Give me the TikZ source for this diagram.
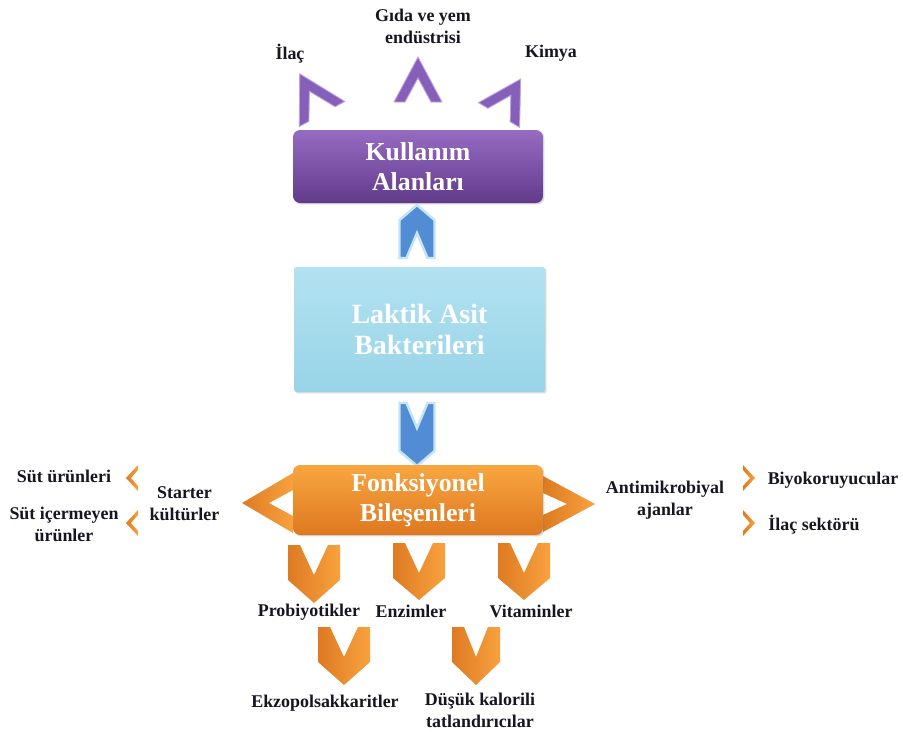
\documentclass[tikz,border=0pt]{standalone}
\usepackage{fontspec}
\setmainfont{Liberation Serif}
\usepackage{tikz}
\usetikzlibrary{shadows}
\definecolor{purple_top}{RGB}{150,108,195}
\definecolor{purple_bot}{RGB}{98,58,138}
\definecolor{purple_chev}{RGB}{134,96,184}
\definecolor{purple_edge}{RGB}{190,165,225}
\definecolor{blue_top}{RGB}{178,226,241}
\definecolor{blue_bot}{RGB}{152,212,231}
\definecolor{blue_chev}{RGB}{82,140,212}
\definecolor{blue_edge}{RGB}{196,230,242}
\definecolor{orange_top}{RGB}{248,166,64}
\definecolor{orange_bot}{RGB}{222,120,32}
\definecolor{orange_dark}{RGB}{222,122,34}
\definecolor{orange_light}{RGB}{248,162,62}
\definecolor{label_ink}{RGB}{22,22,34}

% chevron pointing along +y: half width, flat top, notch, side, tip
\newcommand\chevron[6][]{%
  \path[#1] (-#2,0) -- (-#2+#3,0) -- (0,#4) -- (#2-#3,0) -- (#2,0)
    -- (#2,#5) -- (0,#6) -- (-#2,#5) -- cycle;}

\begin{document}
\begin{tikzpicture}[x=0.02cm,y=-0.02cm]
    \tikzstyle{lbl}=[font=\bfseries\fontsize{10.2}{12.5}\selectfont, text=label_ink, align=center, inner sep=0pt]
    \tikzstyle{box}=[minimum width=5cm, align=center, text=white, inner sep=0pt,
      drop shadow={opacity=0.3, shadow xshift=0.8pt, shadow yshift=-0.8pt}]
    \tikzstyle{kbox}=[style=box, minimum height=1.46cm, rounded corners=4pt, top color=purple_top, bottom color=purple_bot,
      font=\bfseries\fontsize{14.7}{17}\selectfont]
    \tikzstyle{lbox}=[style=box, minimum width=5.02cm, minimum height=2.5cm, rounded corners=1pt, top color=blue_top, bottom color=blue_bot,
      font=\bfseries\fontsize{15.9}{18.1}\selectfont]
    \tikzstyle{fbox}=[style=box, minimum height=1.4cm, rounded corners=4pt, top color=orange_top, bottom color=orange_bot,
      font=\bfseries\fontsize{14.7}{17}\selectfont]
    \tikzstyle{pchev}=[fill=purple_chev, draw=purple_edge, line width=0.5pt]
    \tikzstyle{bchev}=[fill=blue_chev, draw=blue_edge, line width=1.4pt]
    \tikzstyle{ochev}=[left color=orange_dark, right color=orange_light]

    \fill[white] (0,0) rectangle (903,731);
    \useasboundingbox (0,0) rectangle (903,731);

    % usage areas
    \chevron[pchev, shift={(322,114)}, rotate=-151]{26}{11}{26}{0}{46}
    \chevron[pchev, shift={(418,102)}, rotate=180]{24}{11}{24}{0}{45}
    \chevron[pchev, shift={(499,115)}, rotate=149]{24}{11}{23}{0}{42}
    \node[kbox] (kullanim) at (418,166.5) {Kullan\i m\\Alanlar\i};

    \chevron[bchev, shift={(417,258)}, rotate=180]{17.5}{7}{25}{38}{53}
    \node[lbox] (lab) at (419.5,329.5) {Laktik Asit\\Bakterileri};
    \chevron[bchev, shift={(417,403)}]{17.5}{7}{25}{48}{63}

    % functional components
    \chevron[ochev, shift={(293,503)}, rotate=-90]{30}{17}{24}{0}{51}
    \chevron[ochev, shift={(543,504)}, rotate=90]{28}{17}{24}{0}{52}
    \node[fbox] (fonk) at (418,500) {Fonksiyonel\\Bileşenleri};

    \chevron[ochev, shift={(314,545)}]{26}{12}{30}{35}{58}
    \chevron[ochev, shift={(419,543)}]{26}{12}{30}{35}{57}
    \chevron[ochev, shift={(524,543)}]{26}{12}{30}{35}{57}
    \chevron[ochev, shift={(344,627)}]{26}{12}{30}{35}{58}
    \chevron[ochev, shift={(476,627)}]{24}{12}{30}{35}{58}

    \chevron[ochev, shift={(138,478)}, rotate=-90]{13}{5}{7}{0}{12}
    \chevron[ochev, shift={(138,523)}, rotate=-90]{13}{5}{7}{0}{12}
    \chevron[ochev, shift={(743,478)}, rotate=90]{13}{5}{7}{0}{12}
    \chevron[ochev, shift={(743,523)}, rotate=90]{13}{5}{7}{0}{12}

    \node[lbl] (ilac)    at (290,53.5)  {İlaç};
    \node[lbl] (gida)    at (423,26.5)  {Gıda ve yem\\endüstrisi};
    \node[lbl] (kimya)   at (551,53.5)  {Kimya};
    \node[lbl] (sut)     at (64,476.5)  {Süt ürünleri};
    \node[lbl] (sutic)   at (64,524.5)  {Süt içermeyen\\ürünler};
    \node[lbl] (starter) at (184.5,503.5) {Starter\\kültürler};
    \node[lbl] (antimik) at (665,500.5) {Antimikrobiyal\\ajanlar};
    \node[lbl] (biyo)    at (833,480)   {Biyokoruyucular};
    \node[lbl] (ilacsek) at (814,525)   {İlaç sektörü};
    \node[lbl] (probi)   at (309,612.5) {Probiyotikler};
    \node[lbl] (enzim)   at (411,611.5) {Enzimler};
    \node[lbl] (vitamin) at (531,611.5) {Vitaminler};
    \node[lbl] (ekzo)    at (325,703)   {Ekzopolsakkaritler};
    \node[lbl] (dusuk)   at (480,710)   {Düşük kalorili\\tatlandırıcılar};
\end{tikzpicture}
\end{document}
